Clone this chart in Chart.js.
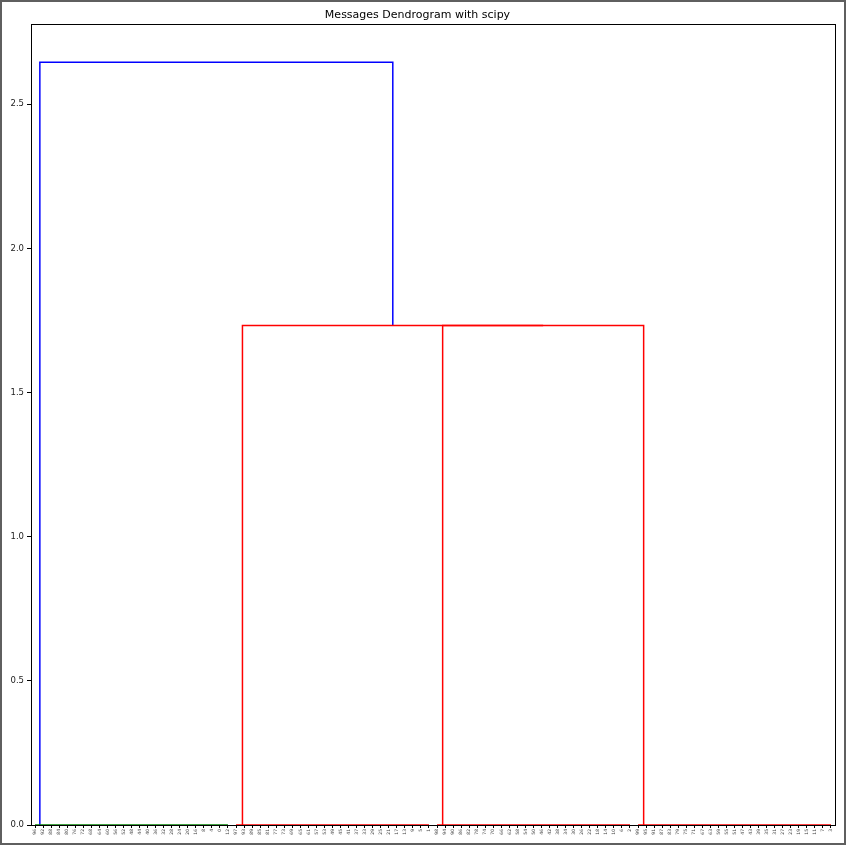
<!DOCTYPE html>
<html>
<head>
<meta charset="utf-8">
<script src="https://cdn.jsdelivr.net/npm/chart.js@4/dist/chart.umd.min.js"></script>
<style>
  html, body { margin: 0; padding: 0; background: #fff; }
  canvas { display: block; }
</style>
</head>
<body>
<canvas id="c" width="846" height="845"></canvas>
<script>
// Leaf labels (message indices, in dendrogram order)
const leafLabels = [
  96, 92, 88, 84, 80, 76, 72, 68, 64, 60, 56, 52, 48, 44, 40, 36, 32, 28, 24, 20, 16, 8, 4, 0, 12,
  97, 93, 89, 85, 81, 77, 73, 69, 65, 61, 57, 53, 49, 45, 41, 37, 33, 29, 25, 21, 17, 13, 9, 5, 1,
  98, 94, 90, 86, 82, 78, 74, 70, 66, 62, 58, 54, 50, 46, 42, 38, 34, 30, 26, 22, 18, 14, 10, 6, 2,
  99, 95, 91, 87, 83, 79, 75, 71, 67, 63, 59, 55, 51, 47, 43, 39, 35, 31, 27, 23, 19, 15, 11, 7, 3
];
// Leaf positions (scipy convention: 5, 15, 25, ...)
const leafPositions = [
  5, 15, 25, 35, 45, 55, 65, 75, 85, 95, 105, 115, 125, 135, 145, 155, 165, 175, 185, 195,
  205, 215, 225, 235, 245, 255, 265, 275, 285, 295, 305, 315, 325, 335, 345, 355, 365, 375, 385, 395,
  405, 415, 425, 435, 445, 455, 465, 475, 485, 495, 505, 515, 525, 535, 545, 555, 565, 575, 585, 595,
  605, 615, 625, 635, 645, 655, 665, 675, 685, 695, 705, 715, 725, 735, 745, 755, 765, 775, 785, 795,
  805, 815, 825, 835, 845, 855, 865, 875, 885, 895, 905, 915, 925, 935, 945, 955, 965, 975, 985, 995
];

// Zero-distance merges inside each cluster (at height 0)
const clusterStartX = [5, 255, 505, 755];
const clusterEndX   = [245, 495, 745, 995];
const clusterColors = ['#008000', '#ff0000', '#ff0000', '#ff0000'];

// Upper links, scipy-style icoord / dcoord
const linkIcoord = [
  [512, 512, 762, 762],
  [263, 263, 637, 637],
  [11, 11, 450, 450]
];
const linkDcoord = [
  [0, 1.7321, 1.7321, 0],
  [0, 1.7321, 1.7321, 1.7321],
  [0, 2.6458, 2.6458, 1.7321]
];
const linkColors = ['#ff0000', '#ff0000', '#0000ff'];

const yTicks = [0, 0.5, 1.0, 1.5, 2.0, 2.5];
const yMax = 2.7775;
const xMax = 1000;

const datasets = [];
for (let i = 0; i < clusterStartX.length; i++) {
  datasets.push({
    data: [{x: clusterStartX[i], y: 0}, {x: clusterEndX[i], y: 0}],
    borderColor: clusterColors[i], borderWidth: 1.5,
    showLine: true, pointRadius: 0, fill: false
  });
}
for (let i = 0; i < linkIcoord.length; i++) {
  datasets.push({
    data: linkIcoord[i].map((x, k) => ({x: x, y: linkDcoord[i][k]})),
    borderColor: linkColors[i], borderWidth: 1.5,
    showLine: true, pointRadius: 0, fill: false
  });
}

const framePlugin = {
  id: 'frame',
  beforeDraw(chart) {
    const ctx = chart.ctx;
    ctx.save();
    ctx.fillStyle = '#fff';
    ctx.fillRect(0, 0, chart.width, chart.height);
    ctx.restore();
  },
  afterDraw(chart) {
    const ctx = chart.ctx, a = chart.chartArea;
    ctx.save();
    ctx.strokeStyle = '#000';
    ctx.lineWidth = 1;
    ctx.strokeRect(Math.round(a.left) + 0.5, Math.round(a.top) + 0.5,
                   Math.round(a.right - a.left), Math.round(a.bottom - a.top));
    ctx.strokeStyle = '#5f5f5f';
    ctx.lineWidth = 2;
    ctx.strokeRect(1, 1, chart.width - 2, chart.height - 2);
    ctx.restore();
  }
};

new Chart(document.getElementById('c'), {
  type: 'scatter',
  data: { datasets },
  plugins: [framePlugin],
  options: {
    responsive: false,
    animation: false,
    layout: { padding: { top: 4, left: 0, right: 11, bottom: 0 } },
    plugins: {
      legend: { display: false },
      tooltip: { enabled: false },
      title: {
        display: true,
        text: 'Messages Dendrogram with scipy',
        color: '#000',
        font: { family: 'DejaVu Sans', size: 11, weight: 'normal' },
        padding: { top: 5, bottom: 2 }
      }
    },
    scales: {
      x: {
        type: 'linear',
        min: 0, max: xMax,
        afterBuildTicks(scale) { scale.ticks = leafPositions.map(v => ({ value: v })); },
        afterFit(scale) { scale.height = 20; },
        ticks: {
          autoSkip: false, maxRotation: 90, minRotation: 90,
          color: '#444', padding: 1,
          font: { family: 'DejaVu Sans', size: 4.5 },
          callback: (v, i) => String(leafLabels[i])
        },
        grid: { drawOnChartArea: false, drawTicks: true, tickLength: 3, color: '#000' },
        border: { display: true, color: '#000' }
      },
      y: {
        type: 'linear',
        min: 0, max: yMax,
        afterBuildTicks(scale) { scale.ticks = yTicks.map(v => ({ value: v })); },
        afterFit(scale) { scale.width = 31; },
        ticks: {
          color: '#222', padding: 3,
          font: { family: 'DejaVu Sans', size: 8.5 },
          callback: v => Number(v).toFixed(1)
        },
        grid: { drawOnChartArea: false, drawTicks: true, tickLength: 4, color: '#000' },
        border: { display: true, color: '#000' }
      }
    }
  }
});
</script>
</body>
</html>
